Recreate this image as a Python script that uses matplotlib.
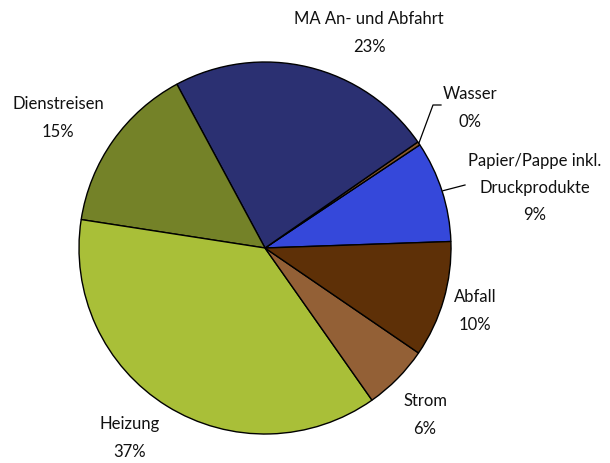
import matplotlib
matplotlib.use("Agg")
import matplotlib.pyplot as plt
import numpy as np

categories = ["Papier/Pappe inkl.\nDruckprodukte", "Wasser", "MA An- und Abfahrt",
              "Dienstreisen", "Heizung", "Strom", "Abfall"]
values = [8.8, 0.3, 23.2, 14.7, 37.2, 5.7, 10.1]
pct_labels = ["9%", "0%", "23%", "15%", "37%", "6%", "10%"]
colors = ["#3548DA", "#8B5A2B", "#2B3072", "#748228", "#A9BF38", "#936036", "#5E3007"]

plt.rcParams['font.family'] = ['Lato', 'DejaVu Sans']

fig = plt.figure(figsize=(6.10, 4.63), dpi=100)
ax = fig.add_axes([0, 0, 1, 1])
R = 186
wedges, _ = ax.pie(values, colors=colors, startangle=2, counterclock=True,
                   radius=R, center=(0, 0), frame=True,
                   wedgeprops=dict(edgecolor="black", linewidth=1.0))
ax.set_xlim(-265, 345)
ax.set_ylim(-215, 248)
ax.set_aspect('equal')
ax.axis('off')

# label centers (pixel coords of reference -> data)
label_px = {
    0: (535, 188),
    1: (470, 108),
    2: (369, 33),
    3: (58, 118),
    4: (130, 438),
    5: (425, 415),
    6: (475, 311),
}
for i, (cat, pct) in enumerate(zip(categories, pct_labels)):
    px, py = label_px[i]
    ax.text(px - 265, 248 - py, cat + "\n" + pct, ha="center", va="center",
            fontsize=12, linespacing=1.85, color="#111111")

# leader lines
def edge_point(i, r):
    w = wedges[i]
    ang = np.deg2rad((w.theta1 + w.theta2) / 2)
    return r * np.cos(ang), r * np.sin(ang)

x0, y0 = edge_point(1, R)
ax.plot([x0, 168, 176], [y0, 143, 143], color="black", lw=0.9)
x0, y0 = edge_point(0, R + 1)
ax.plot([x0, 200], [y0, 63], color="black", lw=0.9)

fig.savefig("out.png", dpi=100)
